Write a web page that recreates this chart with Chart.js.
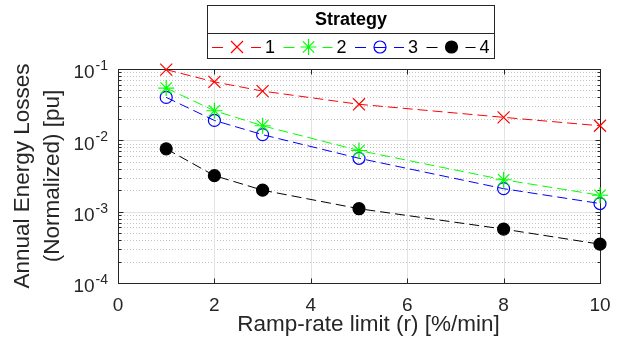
<!DOCTYPE html>
<html>
<head>
<meta charset="utf-8">
<script src="https://cdn.jsdelivr.net/npm/chart.js@4.4.1/dist/chart.umd.min.js"></script>
<style>
html,body{margin:0;padding:0;background:#fff;}
#wrap{width:633px;height:343px;}
</style>
</head>
<body>
<div id="wrap"><canvas id="c" width="633" height="343"></canvas></div>
<script>
const rampRates = [1, 2, 3, 5, 8, 10];
const strategyNames = ['1', '2', '3', '4'];
const losses1 = [0.098, 0.066, 0.049, 0.032, 0.021, 0.016];
const losses2 = [0.054, 0.026, 0.016, 0.0072, 0.0028, 0.0017];
const losses3 = [0.040, 0.019, 0.012, 0.0056, 0.0021, 0.0013];
const losses4 = [0.0076, 0.0032, 0.0020, 0.0011, 0.00057, 0.00035];
const xTicks = [0, 2, 4, 6, 8, 10];
const yDecades = [-4, -3, -2, -1];
const xTitle = 'Ramp-rate limit (r) [%/min]';
const yTitle = ['Annual Energy Losses', '(Normalized) [pu]'];
const legendTitle = 'Strategy';

const FONT = '"Liberation Sans", Arial, Helvetica, sans-serif';
const AXIS = '#262626';

function pts(vals){ return rampRates.map((x,i)=>({x:x, y:vals[i]})); }

const styles = [
  {color:'#ff0000', pointStyle:'crossRot', radius:8.5, fill:false},
  {color:'#00ff00', pointStyle:'star', radius:8, fill:false},
  {color:'#0000ff', pointStyle:'circle', radius:6, fill:false},
  {color:'#000000', pointStyle:'circle', radius:6, fill:true}
];
const seriesVals = [losses1, losses2, losses3, losses4];

const datasets = seriesVals.map((v,i)=>({
  label: strategyNames[i],
  data: pts(v),
  borderColor: styles[i].color,
  backgroundColor: styles[i].fill ? styles[i].color : 'rgba(0,0,0,0)',
  borderWidth: 1,
  borderDash: [10, 5],
  pointStyle: styles[i].pointStyle,
  pointRadius: styles[i].radius,
  pointBorderWidth: 1.2,
  pointBorderColor: styles[i].color,
  pointBackgroundColor: styles[i].fill ? styles[i].color : 'rgba(0,0,0,0)',
  clip: false,
  tension: 0
}));

const framePlugin = {
  id: 'frame',
  beforeDatasetsDraw(chart){
    const {ctx, chartArea:a, scales:{x, y}} = chart;
    ctx.save();
    ctx.lineWidth = 1;
    for (let d = -4; d < -1; d++){
      for (let m = 2; m <= 9; m++){
        const py = Math.round(y.getPixelForValue(m*Math.pow(10,d))) + 0.5;
        ctx.strokeStyle = '#c4c4c4';
        ctx.setLineDash([1, 2]);
        ctx.beginPath(); ctx.moveTo(a.left, py); ctx.lineTo(a.right, py); ctx.stroke();
      }
    }
    ctx.setLineDash([]);
    ctx.strokeStyle = '#e3e3e3';
    yDecades.forEach(d=>{
      const py = Math.round(y.getPixelForValue(Math.pow(10,d))) + 0.5;
      ctx.beginPath(); ctx.moveTo(a.left, py); ctx.lineTo(a.right, py); ctx.stroke();
    });
    xTicks.forEach(t=>{
      const px = Math.round(x.getPixelForValue(t)) + 0.5;
      ctx.beginPath(); ctx.moveTo(px, a.top); ctx.lineTo(px, a.bottom); ctx.stroke();
    });
    ctx.strokeStyle = AXIS;
    ctx.lineWidth = 1;
    const L = Math.round(a.left)+0.5, R = Math.round(a.right)+0.5, T = Math.round(a.top)+0.5, B = Math.round(a.bottom)+0.5;
    ctx.strokeRect(L, T, R-L, B-T);
    xTicks.forEach(t=>{
      const px = Math.round(x.getPixelForValue(t)) + 0.5;
      ctx.beginPath(); ctx.moveTo(px, B); ctx.lineTo(px, B-5); ctx.moveTo(px, T); ctx.lineTo(px, T+5); ctx.stroke();
    });
    for (let d = -4; d <= -1; d++){
      const py = Math.round(y.getPixelForValue(Math.pow(10,d))) + 0.5;
      ctx.beginPath(); ctx.moveTo(L, py); ctx.lineTo(L+5, py); ctx.moveTo(R, py); ctx.lineTo(R-5, py); ctx.stroke();
      if (d < -1){
        for (let m = 2; m <= 9; m++){
          const pm = Math.round(y.getPixelForValue(m*Math.pow(10,d))) + 0.5;
          ctx.beginPath(); ctx.moveTo(L, pm); ctx.lineTo(L+3, pm); ctx.moveTo(R, pm); ctx.lineTo(R-3, pm); ctx.stroke();
        }
      }
    }
    ctx.restore();
  },
  afterDraw(chart){
    const {ctx, chartArea:a, scales:{y}} = chart;
    ctx.save();
    ctx.fillStyle = AXIS;
    yDecades.forEach(d=>{
      const py = y.getPixelForValue(Math.pow(10,d));
      const expTxt = '-' + Math.abs(d);
      ctx.textAlign = 'right';
      ctx.textBaseline = 'middle';
      ctx.font = '14px ' + FONT;
      const ew = ctx.measureText(expTxt).width;
      const right = a.left - 10;
      ctx.fillText(expTxt, right, py - 3);
      ctx.font = '19px ' + FONT;
      ctx.fillText('10', right - ew - 1, py + 4);
    });
    ctx.font = '22.5px ' + FONT;
    ctx.textAlign = 'center';
    ctx.textBaseline = 'middle';
    ctx.fillText(xTitle, 368.5, 325);
    const bx = 207.5, by = 5.5, bw = 287, bh = 53, sep = 33.5;
    ctx.fillStyle = '#fff';
    ctx.fillRect(bx, by, bw, bh);
    ctx.strokeStyle = AXIS;
    ctx.lineWidth = 1;
    ctx.strokeRect(bx, by, bw, bh);
    ctx.beginPath(); ctx.moveTo(bx, sep); ctx.lineTo(bx+bw, sep); ctx.stroke();
    ctx.fillStyle = '#000';
    ctx.font = 'bold 18px ' + FONT;
    ctx.textAlign = 'center';
    ctx.textBaseline = 'middle';
    ctx.fillText(legendTitle, bx + bw/2, 20);
    const ly = 47;
    chart.data.datasets.forEach((ds, i)=>{
      const x0 = 212 + i*71.5;
      ctx.strokeStyle = ds.borderColor;
      ctx.lineWidth = 1;
      ctx.setLineDash([]);
      ctx.beginPath();
      ctx.moveTo(x0, ly+0.5); ctx.lineTo(x0+11, ly+0.5);
      ctx.moveTo(x0+39, ly+0.5); ctx.lineTo(x0+49, ly+0.5);
      ctx.stroke();
      ctx.fillStyle = ds.pointBackgroundColor;
      ctx.strokeStyle = ds.pointBorderColor;
      ctx.lineWidth = 1.2;
      Chart.helpers.drawPoint(ctx, {
        pointStyle: ds.pointStyle, radius: ds.pointRadius, borderWidth: 1.2, rotation: 0
      }, x0+25, ly);
      if (ds.pointStyle === 'circle' && ds.pointBackgroundColor === 'rgba(0,0,0,0)'){
        ctx.lineWidth = 1;
        ctx.beginPath(); ctx.moveTo(x0+25-ds.pointRadius, ly+0.5); ctx.lineTo(x0+25+ds.pointRadius, ly+0.5); ctx.stroke();
      }
      ctx.fillStyle = '#000';
      ctx.font = '18px ' + FONT;
      ctx.textAlign = 'left';
      ctx.textBaseline = 'middle';
      ctx.fillText(ds.label, x0+53, ly+1);
    });
    ctx.restore();
  }
};

new Chart(document.getElementById('c'), {
  type: 'line',
  data: { datasets: datasets },
  options: {
    responsive: false,
    animation: false,
    devicePixelRatio: 1,
    layout: { padding: { left: 0, right: 33, top: 69, bottom: 0 } },
    plugins: { legend: { display: false }, tooltip: { enabled: false } },
    scales: {
      x: {
        type: 'linear', min: 0, max: 10,
        afterBuildTicks(scale){ scale.ticks = xTicks.map(v=>({value:v})); },
        afterFit(scale){ scale.height = 60; },
        grid: { display: false, drawTicks: false },
        border: { display: false },
        ticks: { color: AXIS, font: { family: FONT, size: 19 }, padding: 11, maxRotation: 0 },
        title: { display: false }
      },
      y: {
        type: 'logarithmic', min: 1e-4, max: 1e-1,
        afterFit(scale){ scale.width = 118; },
        grid: { display: false, drawTicks: false },
        border: { display: false },
        ticks: { display: false },
        title: { display: true, text: yTitle, color: AXIS, font: { family: FONT, size: 22.5, lineHeight: 1.34 }, padding: { top: 8, bottom: 0 } }
      }
    }
  },
  plugins: [framePlugin]
});
</script>
</body>
</html>
